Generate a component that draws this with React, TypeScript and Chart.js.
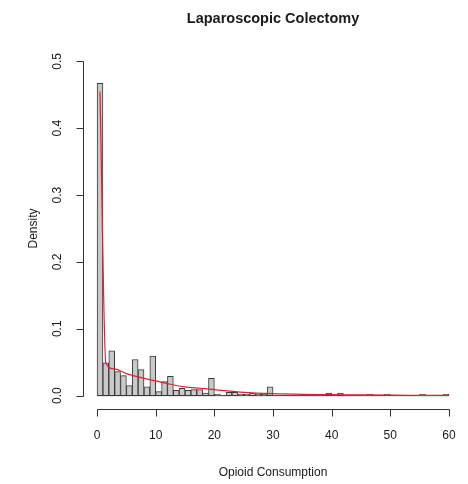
import React, { useEffect, useRef } from "react";
import { Chart, registerables } from "chart.js";

Chart.register(...registerables);

// ---- data ----
const chartTitle = "Laparoscopic Colectomy";
const xAxisLabel = "Opioid Consumption";
const yAxisLabel = "Density";

// histogram bins of width 1, starting at these values
const binStarts = [
  0, 1, 2, 3, 4, 5, 6, 7, 8, 9, 10, 11, 12, 13, 14, 15, 16, 17, 18, 19,
  20, 21, 22, 23, 24, 25, 26, 27, 28, 29, 30, 31, 32, 33, 34, 35, 36, 37, 38, 39,
  40, 41, 42, 43, 44, 45, 46, 47, 48, 49, 50, 51, 52, 53, 54, 55, 56, 57, 58, 59,
];
const binDensity = [
  0.467, 0.049, 0.067, 0.036, 0.030, 0.015, 0.054, 0.039, 0.013, 0.059,
  0.006, 0.021, 0.029, 0.008, 0.011, 0.008, 0.009, 0.009, 0.004, 0.026,
  0.002, 0.0, 0.005, 0.005, 0.002, 0.002, 0.004, 0.002, 0.002, 0.013,
  0, 0, 0, 0, 0, 0, 0, 0, 0, 0.004,
  0, 0.004, 0, 0, 0, 0, 0.002, 0, 0, 0.002,
  0, 0, 0, 0, 0, 0.002, 0, 0, 0, 0.002,
];

// fitted density curve
const curveX = [0.5, 1.5, 3, 5, 7.5, 10, 12.5, 15, 17.5, 20, 25, 30, 35, 40, 45, 50, 55, 60];
const curveY = [0.455, 0.048, 0.040, 0.033, 0.027, 0.022, 0.017, 0.013, 0.011, 0.009, 0.005, 0.003, 0.002, 0.0015, 0.001, 0.0007, 0.0005, 0.0003];

const xTicks = [0, 10, 20, 30, 40, 50, 60];
const yTicks = [0, 0.1, 0.2, 0.3, 0.4, 0.5];
const yTickLabels = ["0.0", "0.1", "0.2", "0.3", "0.4", "0.5"];

const FONT = "Arial, 'Liberation Sans', Helvetica, sans-serif";
const AXIS_COLOR = "#333333";
const TEXT_COLOR = "#1a1a1a";

const rAxesPlugin = {
  id: "rAxes",
  afterDraw(chart: any) {
    const { ctx, chartArea } = chart;
    const xs = chart.scales.x;
    const ys = chart.scales.y;
    ctx.save();
    ctx.strokeStyle = AXIS_COLOR;
    ctx.lineWidth = 1;
    const tickLen = 7;

    // x axis
    const axY = Math.round(chartArea.bottom) + 0.5;
    const x0 = Math.round(xs.getPixelForValue(xTicks[0])) + 0.5;
    const x1 = Math.round(xs.getPixelForValue(xTicks[xTicks.length - 1])) + 0.5;
    ctx.beginPath();
    ctx.moveTo(x0, axY);
    ctx.lineTo(x1, axY);
    xTicks.forEach((t) => {
      const px = Math.round(xs.getPixelForValue(t)) + 0.5;
      ctx.moveTo(px, axY);
      ctx.lineTo(px, axY + tickLen);
    });
    ctx.stroke();

    // y axis
    const axX = Math.round(chartArea.left) + 0.5;
    const y0 = Math.round(ys.getPixelForValue(yTicks[0])) + 0.5;
    const y1 = Math.round(ys.getPixelForValue(yTicks[yTicks.length - 1])) + 0.5;
    ctx.beginPath();
    ctx.moveTo(axX, y0);
    ctx.lineTo(axX, y1);
    yTicks.forEach((t) => {
      const py = Math.round(ys.getPixelForValue(t)) + 0.5;
      ctx.moveTo(axX, py);
      ctx.lineTo(axX - tickLen, py);
    });
    ctx.stroke();

    ctx.fillStyle = TEXT_COLOR;
    ctx.font = `12px ${FONT}`;
    ctx.textAlign = "center";
    ctx.textBaseline = "middle";
    xTicks.forEach((t) => {
      ctx.fillText(String(t), xs.getPixelForValue(t), axY + 26);
    });
    yTicks.forEach((t, i) => {
      ctx.save();
      ctx.translate(axX - 26, ys.getPixelForValue(t));
      ctx.rotate(-Math.PI / 2);
      ctx.fillText(yTickLabels[i], 0, 0);
      ctx.restore();
    });

    const cx = (chartArea.left + chartArea.right) / 2;
    const cy = (chartArea.top + chartArea.bottom) / 2;
    ctx.fillText(xAxisLabel, cx, axY + 63);
    ctx.save();
    ctx.translate(axX - 50, cy);
    ctx.rotate(-Math.PI / 2);
    ctx.fillText(yAxisLabel, 0, 0);
    ctx.restore();

    ctx.font = `bold 14.5px ${FONT}`;
    ctx.fillText(chartTitle, cx, 19);
    ctx.restore();
  },
};

export default function App() {
  const canvasRef = useRef<HTMLCanvasElement | null>(null);

  useEffect(() => {
    document.body.style.margin = "0";
    const canvas = canvasRef.current;
    if (!canvas) return;
    const chart = new Chart(canvas, {
      type: "bar",
      data: {
        datasets: [
          {
            type: "line",
            label: "density",
            data: curveX.map((x, i) => ({ x, y: curveY[i] })),
            borderColor: "rgb(226, 30, 50)",
            borderWidth: 1.2,
            pointRadius: 0,
            cubicInterpolationMode: "monotone",
            order: 0,
          } as any,
          {
            type: "bar",
            label: "hist",
            data: binStarts.map((b, i) => ({ x: b + 0.5, y: binDensity[i] })),
            backgroundColor: "#c9c9c9",
            borderColor: "#3a3a3a",
            borderWidth: 1,
            borderSkipped: false,
            barPercentage: 1,
            categoryPercentage: 1,
            grouped: false,
            order: 1,
          } as any,
          {
            type: "line",
            label: "baseline",
            data: [
              { x: binStarts[0], y: 0 },
              { x: binStarts[binStarts.length - 1] + 1, y: 0 },
            ],
            borderColor: "#3a3a3a",
            borderWidth: 1,
            pointRadius: 0,
            order: 2,
          } as any,
        ],
      },
      options: {
        animation: false,
        responsive: false,
        maintainAspectRatio: false,
        layout: { padding: { left: 83, right: 5, top: 48, bottom: 75 } },
        plugins: {
          legend: { display: false },
          tooltip: { enabled: false },
          title: { display: false },
        },
        scales: {
          x: {
            type: "linear",
            min: -2.4,
            max: 62.4,
            offset: false,
            display: false,
            grid: { display: false },
          },
          y: {
            type: "linear",
            min: -0.02,
            max: 0.52,
            display: false,
            grid: { display: false },
          },
        },
      },
      plugins: [rAxesPlugin],
    });
    return () => chart.destroy();
  }, []);

  return (
    <div style={{ position: "fixed", left: 0, top: 0, width: 468, height: 484, background: "#fff" }}>
      <canvas ref={canvasRef} width={468} height={484} style={{ display: "block", width: 468, height: 484 }} />
    </div>
  );
}
